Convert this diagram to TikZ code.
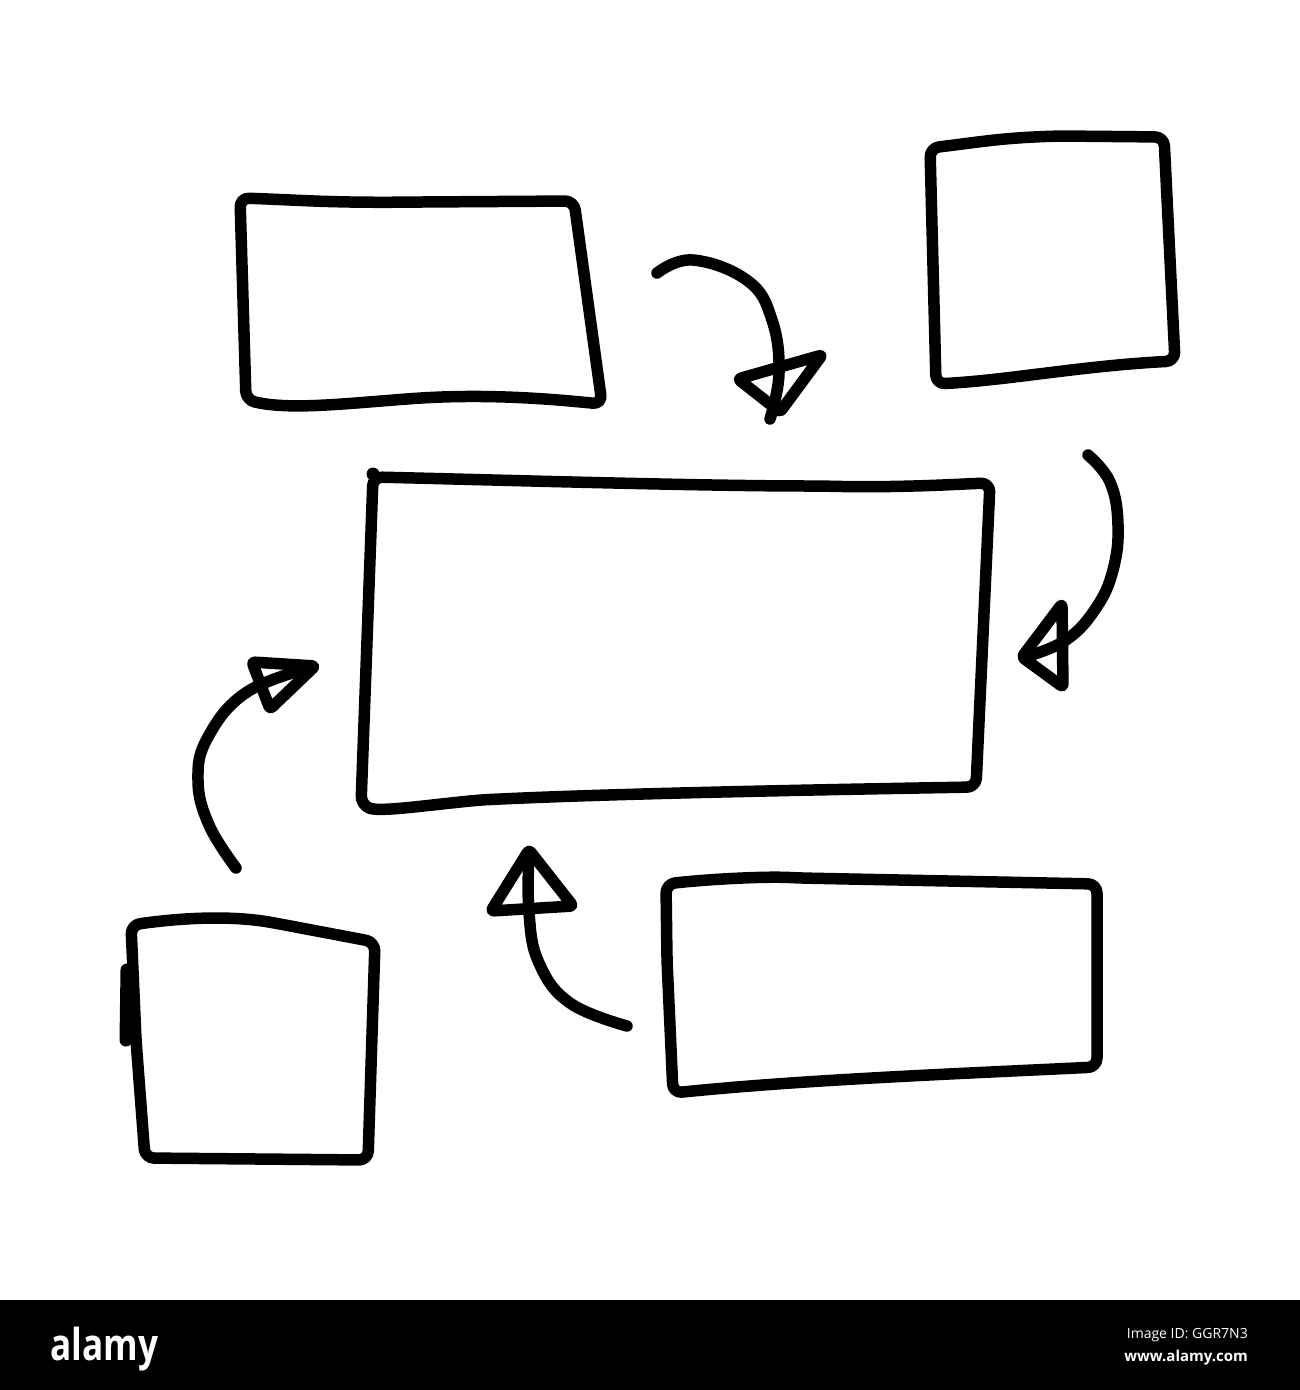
\documentclass[tikz,border=0pt]{standalone}
\usepackage{fontspec}
\newfontfamily\wmfont{Open Sans}
\usepackage{graphicx}
\begin{document}
\begin{tikzpicture}[x=1pt,y=-1pt,
  pen/.style={line width=11.5pt, line cap=round, line join=round, black},
  sketchbox/.style={pen, rounded corners=9pt},
  headtri/.style={pen, rounded corners=3pt}]
\useasboundingbox (0,0) rectangle (1300,1390);
\fill[white] (0,0) rectangle (1300,1300);

% ---- boxes ----
% A: top-left
\draw[sketchbox] (240,198) .. controls (300,200) and (330,203) .. (420,202)
  -- (574,201) -- (602,404)
  .. controls (560,400) and (500,394) .. (420,398)
  .. controls (340,404) and (290,410) .. (246,400) -- cycle;
% B: top-right
\draw[sketchbox] (930,148) .. controls (980,142) and (1000,138) .. (1060,136)
  -- (1164,137) -- (1175,361)
  .. controls (1080,366) and (1010,380) .. (936,384) -- cycle;
% C: centre
\draw[sketchbox] (373,477) .. controls (500,480) and (700,486) .. (820,486)
  .. controls (900,488) and (960,484) .. (990,483)
  -- (976,787)
  .. controls (800,790) and (600,794) .. (480,800)
  .. controls (420,806) and (380,812) .. (361,805) -- cycle;
\fill (373,474) circle (6.5pt);
% D: bottom-left
\draw[sketchbox] (131,925) .. controls (180,918) and (230,915) .. (280,924)
  -- (375,942) -- (368,1160) -- (145,1158) -- (136,1040) -- cycle;
\draw[pen, line width=13pt] (127,970) -- (126,1040);
% E: bottom-right
\draw[sketchbox] (666,884) .. controls (700,880) and (760,876) .. (800,878)
  -- (1097,884) -- (1097,1067)
  .. controls (950,1074) and (800,1080) .. (673,1093)
  -- (667,960) -- cycle;

% ---- arrows ----
\coordinate (a1s) at (657,273);  \coordinate (a1e) at (770,419);
\draw[pen] plot[smooth, tension=0.7] coordinates {(a1s) (693,260) (748,281) (772,320) (779,373) (a1e)};
\draw[headtri] (738,379) -- (822,355) -- (780,412) -- cycle;

\coordinate (a2s) at (1088,455); \coordinate (a2e) at (1025,657);
\draw[pen] plot[smooth, tension=0.7] coordinates {(a2s) (1110,482) (1118,525) (1113,570) (1096,608) (1066,640) (a2e)};
\draw[headtri] (1062,604) -- (1022,657) -- (1063,687) -- cycle;

\coordinate (a3s) at (236,868); \coordinate (a3e) at (313,667);
\draw[pen] plot[smooth, tension=0.7] coordinates {(a3s) (209,825) (198,780) (208,737) (247,692) (a3e)};
\draw[headtri] (252,662) -- (315,666) -- (270,709) -- cycle;

\coordinate (a4s) at (627,1026); \coordinate (a4e) at (529,852);
\draw[pen] plot[smooth, tension=0.7] coordinates {(a4s) (570,1003) (539,963) (529,913) (a4e)};
\draw[headtri] (529,850) -- (491,911) -- (573,906) -- cycle;

% ---- watermark bar ----
\fill[black] (0,1300) rectangle (1300,1390);
\node[white, anchor=base west, inner sep=0pt] (logo) at (50,1360)
  {\scalebox{0.8}[1]{\wmfont\bfseries\fontsize{44}{44}\selectfont alamy}};
\node[white, anchor=base east, inner sep=0pt] (imgid) at (1248,1338)
  {\wmfont\fontsize{14}{14}\selectfont Image ID: GGR7N3};
\node[white, anchor=base east, inner sep=0pt] (url) at (1248,1361)
  {\wmfont\bfseries\fontsize{15}{15}\selectfont www.alamy.com};
\end{tikzpicture}
\end{document}
